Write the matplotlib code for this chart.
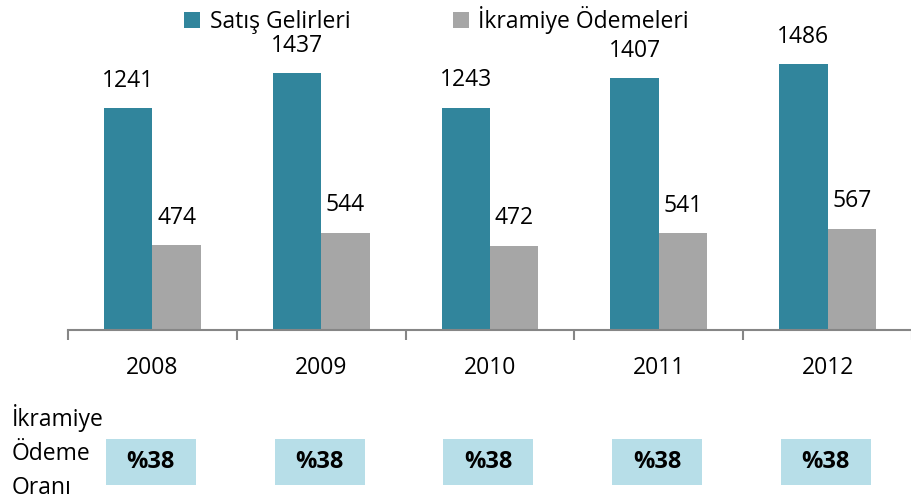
import matplotlib
matplotlib.use("Agg")
import matplotlib.pyplot as plt
import matplotlib.transforms as mtransforms
from matplotlib.patches import Rectangle
import numpy as np

# data
years = ["2008", "2009", "2010", "2011", "2012"]
sales = [1241, 1437, 1243, 1407, 1486]
bonus = [474, 544, 472, 541, 567]
ratio = [38, 38, 38, 38, 38]

teal = "#31859C"
gray = "#A6A6A6"
boxc = "#B7DEE8"

plt.rcParams["font.family"] = ["Open Sans", "DejaVu Sans"]
fs = 16.5

fig = plt.figure(figsize=(9.12, 5.04), dpi=100)
W, H = 912, 504
ax = fig.add_axes([68 / W, (H - 330) / H, (912 - 68) / W, 322 / H])

x = np.arange(len(years))
bw = 0.287
b1 = ax.bar(x - bw, sales, bw, align="edge", color=teal, label="Satış Gelirleri")
b2 = ax.bar(x, bonus, bw, align="edge", color=gray, label="İkramiye Ödemeleri")

for bars in (b1, b2):
    for r in bars:
        ax.annotate(f"{int(r.get_height())}", (r.get_x() + r.get_width() / 2, r.get_height()),
                    xytext=(0, 11), textcoords="offset points", ha="center", va="bottom",
                    fontsize=fs)

ax.set_ylim(0, 1800)
ax.set_xlim(-0.5, -0.5 + 844 / 170.7)
ax.set_yticks([])
for s in ("top", "right", "left"):
    ax.spines[s].set_visible(False)
ax.spines["bottom"].set_color("#868686")
ax.spines["bottom"].set_linewidth(1.5)

ax.set_xticks(x)
ax.set_xticklabels(years, fontsize=fs)
ax.tick_params(axis="x", which="major", length=0, pad=19)
ax.set_xticks(np.arange(-0.5, len(years), 1), minor=True)
ax.tick_params(axis="x", which="minor", length=7, width=1.5, color="#868686")

ax.legend(loc="upper left", bbox_to_anchor=(182 / W, 1 - 4 / H), bbox_transform=fig.transFigure,
          ncol=2, frameon=False, fontsize=fs, handlelength=0.7, handleheight=0.7,
          handletextpad=0.4, columnspacing=4.5, borderaxespad=0, borderpad=0.1)

# ratio boxes below the axis
trans = mtransforms.blended_transform_factory(ax.transData, ax.transAxes)
box_w = 91 / 170.7
y0 = (330 - 485) / 322
y1 = (330 - 439) / 322
for i, r in enumerate(ratio):
    ax.add_patch(Rectangle((i - box_w / 2 - 0.01, y0), box_w, y1 - y0, transform=trans,
                           facecolor=boxc, edgecolor="none", clip_on=False))
    ax.text(i - 0.01, (y0 + y1) / 2, f"%{r}", transform=trans, ha="center", va="center",
            fontsize=17, fontweight="bold")

fig.text(12 / W, 1 - 404 / H, "İkramiye\nÖdeme\nOranı", ha="left", va="top",
         fontsize=fs, linespacing=1.55)

fig.savefig("out.png", dpi=100)
